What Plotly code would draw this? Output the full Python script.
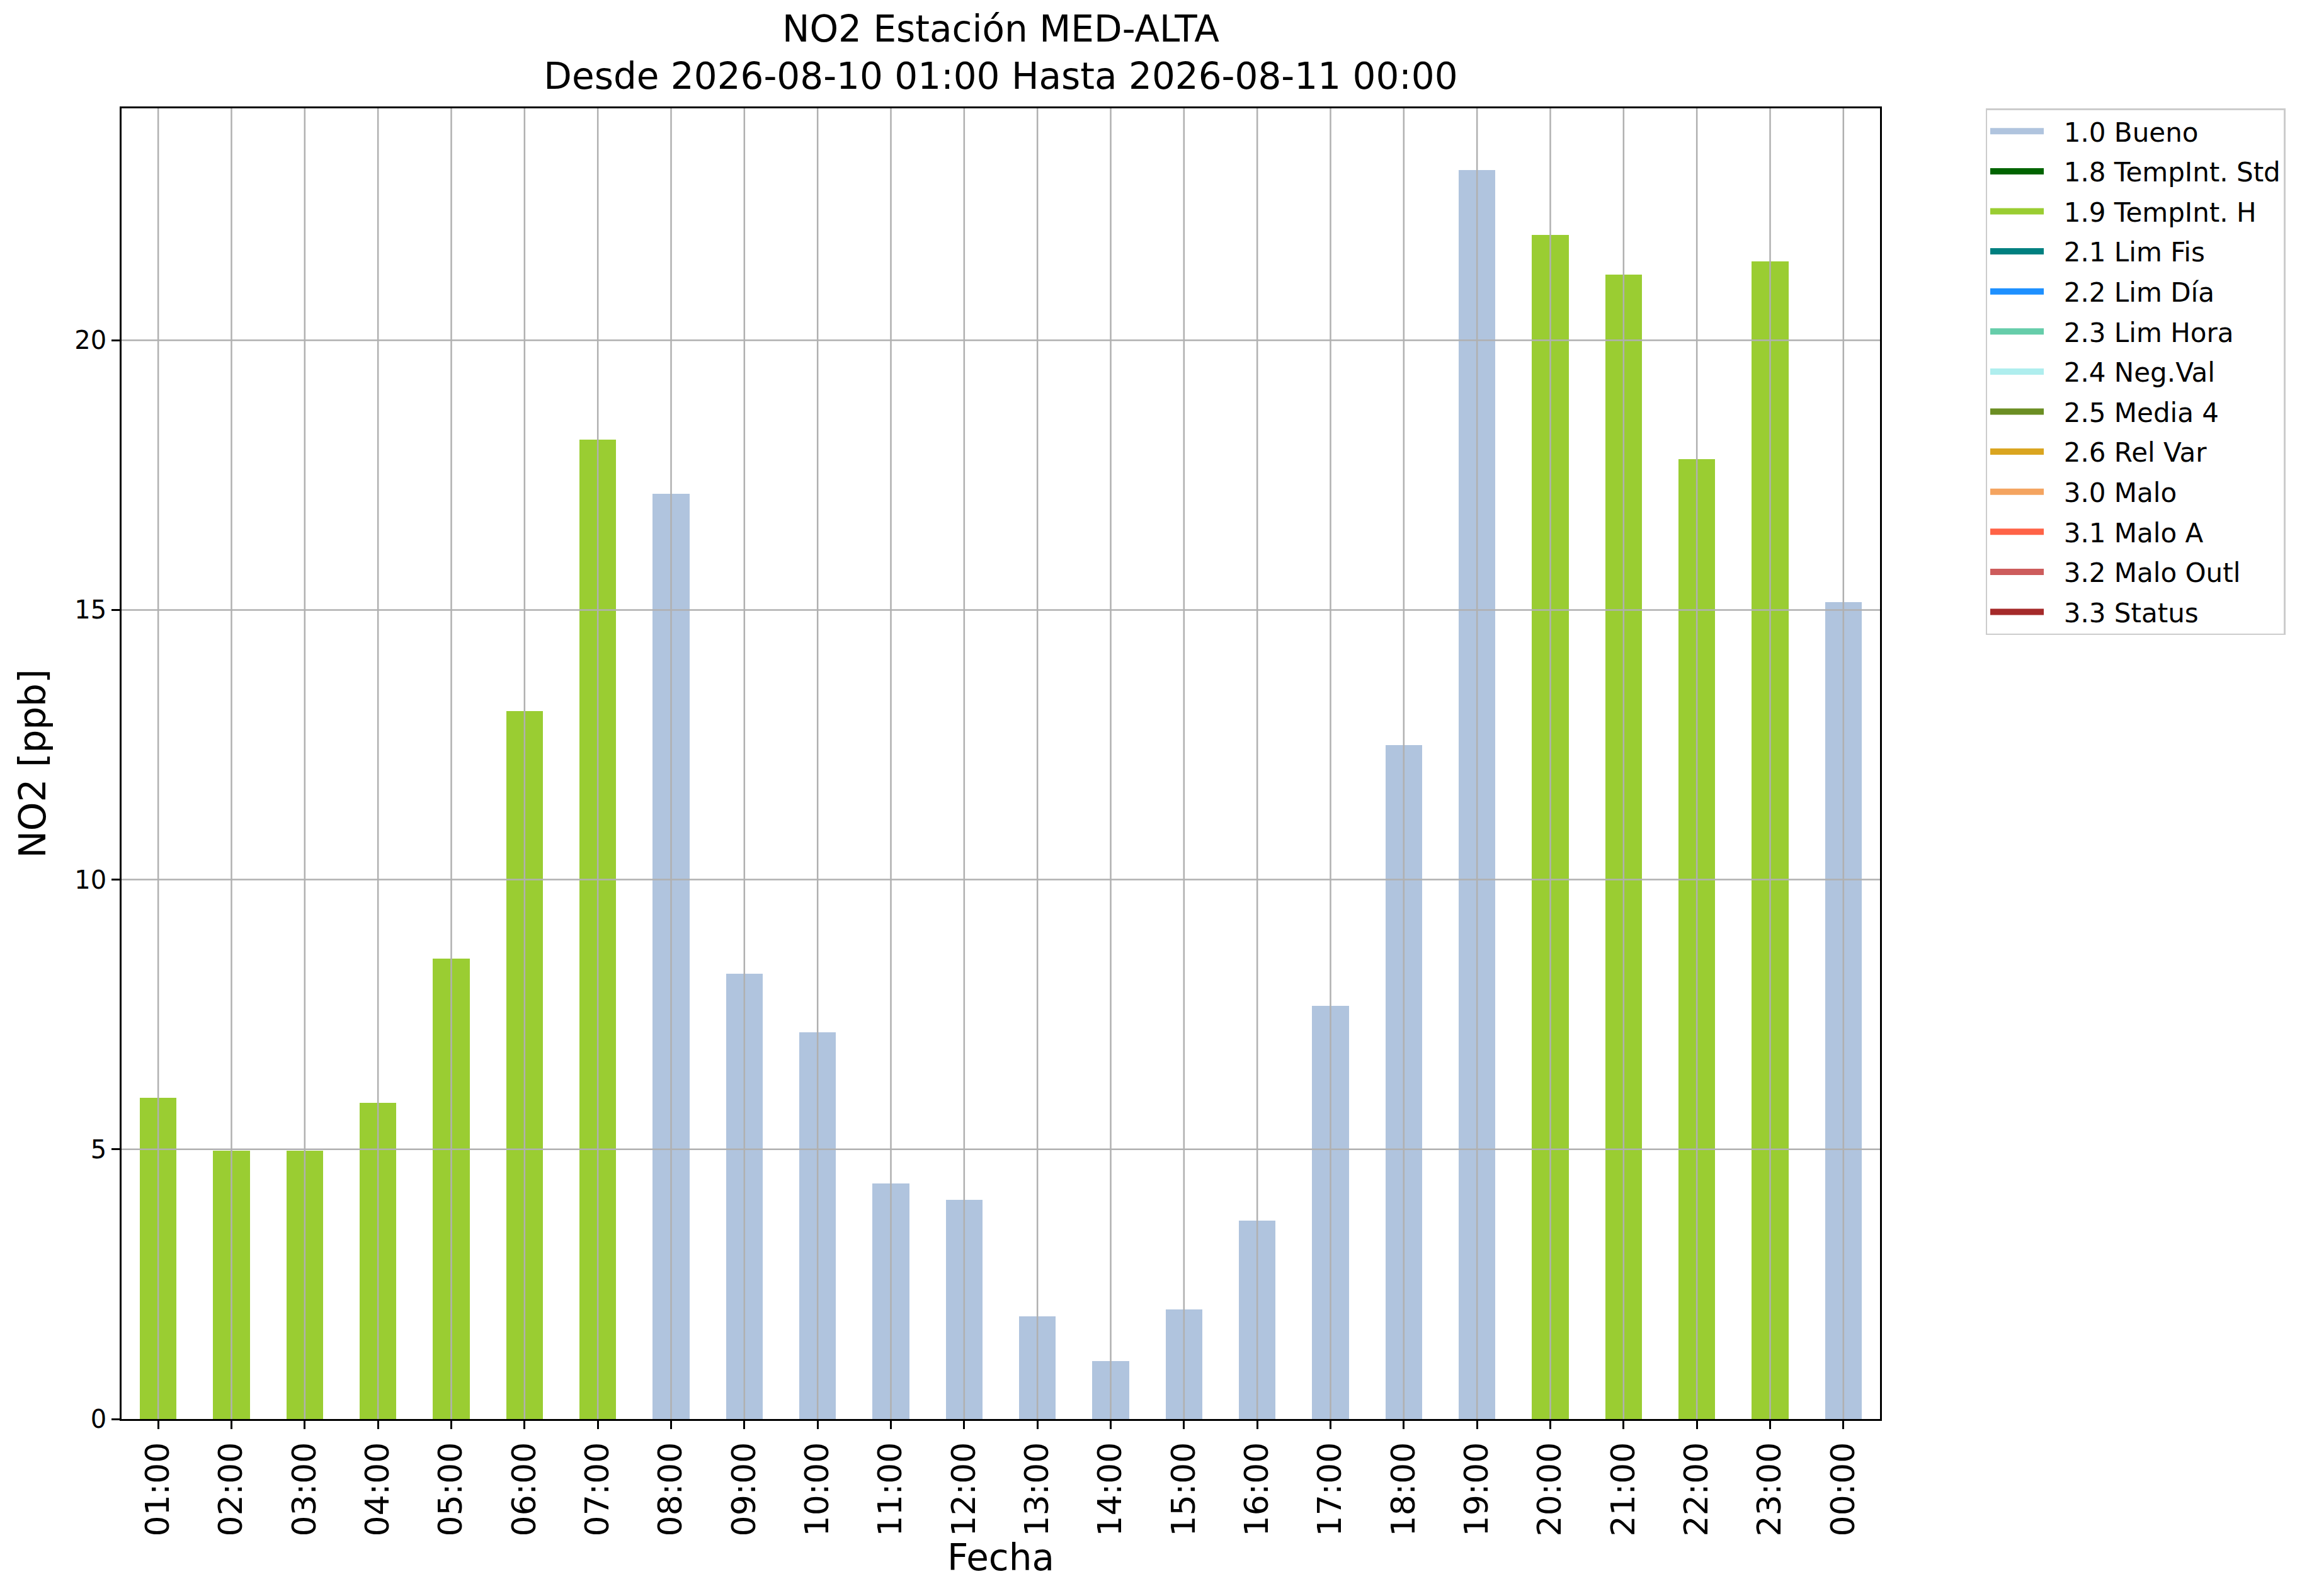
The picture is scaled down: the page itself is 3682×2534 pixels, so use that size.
import plotly.graph_objects as go

# horas del periodo y valores de NO2 (ppb)
horas = ["01:00", "02:00", "03:00", "04:00", "05:00", "06:00", "07:00", "08:00",
         "09:00", "10:00", "11:00", "12:00", "13:00", "14:00", "15:00", "16:00",
         "17:00", "18:00", "19:00", "20:00", "21:00", "22:00", "23:00", "00:00"]
valores = [5.95, 4.98, 4.98, 5.86, 8.54, 13.13, 18.16, 17.15,
           8.26, 7.17, 4.37, 4.06, 1.90, 1.07, 2.03, 3.68,
           7.66, 12.49, 23.15, 21.95, 21.22, 17.80, 21.46, 15.14]
flags = ["1.9", "1.9", "1.9", "1.9", "1.9", "1.9", "1.9", "1.0",
         "1.0", "1.0", "1.0", "1.0", "1.0", "1.0", "1.0", "1.0",
         "1.0", "1.0", "1.0", "1.9", "1.9", "1.9", "1.9", "1.0"]

# categorias de validacion
codigos = ["1.0", "1.8", "1.9", "2.1", "2.2", "2.3", "2.4", "2.5", "2.6",
           "3.0", "3.1", "3.2", "3.3"]
nombres = ["Bueno", "TempInt. Std", "TempInt. H", "Lim Fis", "Lim Día",
           "Lim Hora", "Neg.Val", "Media 4", "Rel Var", "Malo", "Malo A",
           "Malo Outl", "Status"]
colores = ["lightsteelblue", "darkgreen", "yellowgreen", "teal", "dodgerblue",
           "mediumaquamarine", "paleturquoise", "olivedrab", "goldenrod",
           "sandybrown", "tomato", "indianred", "brown"]

yticks = [0, 5, 10, 15, 20]

FONT = "DejaVu Sans"
GRID = "#b0b0b0"

fig = go.Figure()
for cod, nom, col in zip(codigos, nombres, colores):
    fig.add_trace(go.Bar(
        x=horas,
        y=[v if f == cod else None for v, f in zip(valores, flags)],
        name=f"{cod} {nom}",
        legendgroup=cod,
        showlegend=False,
        marker=dict(color=col, line=dict(width=0)),
        width=0.5,
    ))
    # entrada de leyenda con rectangulo ancho (como el parche de matplotlib)
    fig.add_trace(go.Scatter(
        x=[None], y=[None],
        mode="lines",
        name="\u00a0\u00a0" + f"{cod} {nom}",
        legendgroup=cod,
        line=dict(color=col, width=27),
        hoverinfo="skip",
    ))

# rejilla por encima de las barras (como en matplotlib)
for h in horas:
    fig.add_shape(type="line", xref="x", yref="paper", x0=h, x1=h, y0=0, y1=1,
                  line=dict(color=GRID, width=2.5), layer="above")
for t in yticks:
    if t > 0:
        fig.add_shape(type="line", xref="paper", yref="y", x0=0, x1=1, y0=t, y1=t,
                      line=dict(color=GRID, width=2.5), layer="above")

fig.update_layout(
    width=3682, height=2534,
    barmode="stack",
    bargap=0,
    paper_bgcolor="white", plot_bgcolor="white",
    font=dict(family=FONT, color="black"),
    margin=dict(l=185, r=705, t=164, b=289, autoexpand=False),
    title=dict(
        text="NO2 Estación MED-ALTA<br>Desde 2026-08-10 01:00 Hasta 2026-08-11 00:00",
        x=(185 + 2977) / 2 / 3682, xanchor="center",
        y=1 - 58 / 2534, yanchor="middle", yref="container",
        font=dict(size=58, family=FONT),
    ),
    legend=dict(
        x=1.060, y=1.0, xanchor="left", yanchor="top",
        bgcolor="white", bordercolor="#cccccc", borderwidth=2.5,
        font=dict(size=42, family=FONT),
        traceorder="grouped", tracegroupgap=6,
        itemwidth=85,
    ),
    showlegend=True,
)

fig.update_xaxes(
    type="category", range=[-0.5, len(horas) - 0.5],
    showgrid=False, zeroline=False,
    showline=True, mirror=True, linecolor="black", linewidth=2.6,
    ticks="outside", ticklen=13, tickwidth=2.6, tickcolor="black",
    tickangle=-90, tickfont=dict(size=52, family=FONT),
    title=dict(text="Fecha", font=dict(size=58, family=FONT), standoff=10),
    automargin=False, layer="above traces",
)
fig.update_yaxes(
    range=[0, 24.3], tickvals=yticks,
    showgrid=False, zeroline=False,
    showline=True, mirror=True, linecolor="black", linewidth=2.6,
    ticks="outside", ticklen=13, tickwidth=2.6, tickcolor="black",
    tickfont=dict(size=40, family=FONT),
    title=dict(text="NO2 [ppb]", font=dict(size=58, family=FONT), standoff=27),
    automargin=False, layer="above traces",
)

fig.write_html("out.html", config={"displayModeBar": False})
